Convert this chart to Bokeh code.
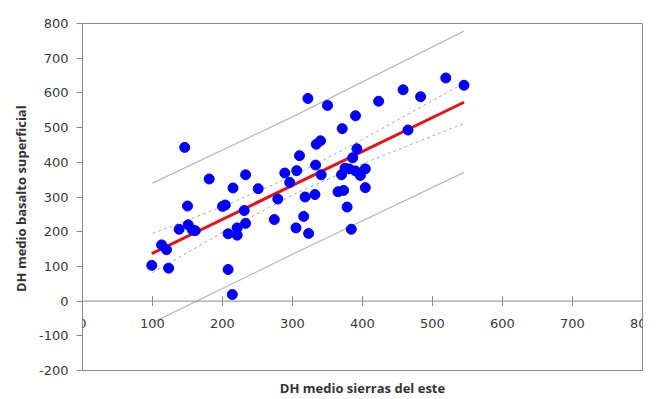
import math
from bokeh.plotting import figure
from bokeh.models import Range1d, FixedTicker, Span, ColumnDataSource, LabelSet
from bokeh.core.properties import value
from bokeh.embed import file_html
from bokeh.resources import INLINE

# ---- data ----
sierras = [99, 113, 120, 123, 138, 146, 150, 151, 157, 161,
           181, 200, 204, 208, 208, 214, 215, 221, 221, 231,
           233, 233, 251, 274, 279, 289, 296, 305, 306, 310,
           316, 318, 322, 323, 332, 333, 334, 340, 341, 350,
           365, 370, 371, 373, 375, 378, 381, 384, 386, 390,
           390, 392, 397, 404, 404, 423, 458, 465, 483, 519, 545]
basalto = [103, 162, 148, 95, 207, 443, 274, 220, 205, 203,
           352, 273, 277, 194, 91, 19, 326, 211, 190, 261,
           224, 364, 324, 235, 294, 369, 342, 211, 376, 419,
           244, 300, 584, 195, 307, 392, 452, 462, 364, 564,
           315, 364, 497, 319, 383, 271, 381, 207, 413, 534,
           375, 439, 362, 327, 381, 576, 609, 493, 589, 643, 622]

reg_x = [99, 545]
reg_y = [137, 573]

conf_x = [100, 200, 300, 400, 545]
conf_upper = [195, 272, 360, 466, 628]
conf_lower = [82, 198, 306, 396, 512]

pred_x = [100, 300, 545]
pred_upper = [340, 531, 778]
pred_lower = [-62, 135, 371]

x_ticks = [0, 100, 200, 300, 400, 500, 600, 700, 800]
x_tick_labels = ["0", "100", "200", "300", "400", "500", "600", "700", "800"]
y_ticks = [-200, -100, 0, 100, 200, 300, 400, 500, 600, 700, 800]
y_tick_labels = ["-200", "-100", "0", "100", "200", "300", "400", "500", "600", "700", "800"]

x_title = "DH medio sierras del este"
y_title = "DH medio basalto  superficial"

AXIS_COLOR = "#8a8a8a"

# ---- figure ----
p = figure(width=658, height=399, output_backend="svg", toolbar_location=None,
           x_range=Range1d(0, 800), y_range=Range1d(-200, 800),
           min_border_left=82, min_border_right=16, min_border_top=23,
           min_border_bottom=25)
p.background_fill_color = "white"
p.border_fill_color = "white"
p.outline_line_color = AXIS_COLOR
p.outline_line_width = 1
p.xgrid.visible = False
p.ygrid.visible = False

# left axis
ya = p.yaxis[0]
ya.ticker = FixedTicker(ticks=y_ticks)
ya.major_label_overrides = dict(zip(y_ticks, y_tick_labels))
ya.axis_line_color = AXIS_COLOR
ya.major_tick_line_color = AXIS_COLOR
ya.major_tick_out = 6
ya.major_tick_in = 0
ya.minor_tick_line_color = None
ya.major_label_text_font = "DejaVu Sans"
ya.major_label_text_font_size = "13px"
ya.major_label_text_color = "#3a3a3a"
ya.major_label_standoff = 8
ya.axis_label = y_title
ya.axis_label_text_font = "Open Sans"
ya.axis_label_text_font_style = "bold"
ya.axis_label_text_font_size = "13px"
ya.axis_label_text_color = "#333333"
ya.axis_label_standoff = 6

# bottom axis only carries the title
xa = p.below[0]
xa.ticker = FixedTicker(ticks=[])
xa.axis_line_color = None
xa.major_tick_line_color = None
xa.minor_tick_line_color = None
xa.major_tick_out = 0
xa.major_label_standoff = 0
xa.axis_label = x_title
xa.axis_label_text_font = "Open Sans"
xa.axis_label_text_font_style = "bold"
xa.axis_label_text_font_size = "13px"
xa.axis_label_text_color = "#333333"
xa.axis_label_standoff = 8

# x axis drawn through y = 0
p.add_layout(Span(location=0, dimension="width", line_color=AXIS_COLOR, line_width=1))
tick_src = ColumnDataSource(dict(x=x_ticks, y=[0] * len(x_ticks), lab=x_tick_labels))
p.scatter("x", "y", source=tick_src, marker="dash", size=10, angle=math.pi / 2,
          line_color=AXIS_COLOR, line_width=1)
p.add_layout(LabelSet(x="x", y="y", text="lab", source=tick_src,
                      text_font=value("DejaVu Sans"), text_font_size="13px",
                      text_color="#3a3a3a", text_align="center",
                      text_baseline="middle", y_offset=-22))

# prediction bands
p.line(pred_x, pred_upper, line_color="#b8b8b8", line_width=1.2)
p.line(pred_x, pred_lower, line_color="#b8b8b8", line_width=1.2)

# confidence bands
p.line(conf_x, conf_upper, line_color="#9fb59f", line_width=1, line_dash="3 3")
p.line(conf_x, conf_lower, line_color="#9fb59f", line_width=1, line_dash="3 3")

# regression line
p.line(reg_x, reg_y, line_color="#ee1111", line_width=3)

# observations
p.scatter(sierras, basalto, size=10, fill_color="#0000ff", line_color="#0000ff")

open("out.html", "w").write(file_html(p, INLINE))
